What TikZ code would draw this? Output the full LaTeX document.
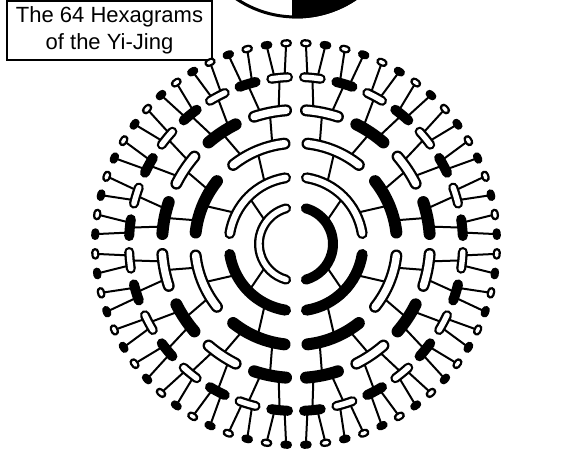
\documentclass[tikz,border=0pt]{standalone}
\usepackage{fontspec}
\setmainfont{Liberation Sans}
\usepackage{tikz}

\begin{document}
\begin{tikzpicture}[
            x=1pt, y=1pt,
            link/.style={
                draw=black,
                line width=2pt,
                line cap=round
            },
            yangseg/.style={
                draw=black,
                line cap=round
            },
            yinrim/.style={
                draw=black,
                line cap=round
            },
            yinfill/.style={
                draw=white,
                line cap=round
            },
            titlebox/.style={
                rectangle,
                draw=black,
                line width=2pt,
                minimum width=205pt,
                minimum height=59pt,
                inner sep=0pt,
                align=center,
                font=\fontsize{22}{27}\selectfont
            }
        ]
            \path[use as bounding box] (0,0) rectangle (580,454);
            \clip (0,0) rectangle (580,454);

            % --- TAIJI (cut by the page) ---
            \node [circle, draw=black, line width=3pt, fill=white, minimum size=214pt, inner sep=0pt] (taiji) at (296,544) {};
            \begin{scope}
                \clip (292,300) rectangle (420,700);
                \fill [black] (taiji.center) circle [radius=108.5pt];
            \end{scope}

            % --- TITLE ---
            \node [titlebox] (title) at (109.5,423.5) {The 64 Hexagrams\\of the Yi-Jing};

            \begin{scope}[shift={(296,210)}]
                % --- CENTRES OF THE SEGMENTS ---
                \foreach \k/\r in {1/37, 2/67, 3/101, 4/134, 5/167, 6/201} {
                    \pgfmathtruncatemacro\last{2^(\k-1)-1}
                    \pgfmathsetmacro\dt{180/2^(\k-1)}
                    \foreach \s/\side in {1/R, -1/L} {
                        \foreach \j in {0,...,\last} {
                            \pgfmathsetmacro\mid{90-(\s)*(\j+0.5)*\dt}
                            \coordinate (seg-\k-\side-\j) at (\mid:\r pt);
                        }
                    }
                }

                % --- BRANCHES ---
                \foreach \k/\rp/\f in {2/37/0.2, 3/67/0.22, 4/101/0.2, 5/134/0.33, 6/167/0.4} {
                    \pgfmathtruncatemacro\last{2^(\k-1)-1}
                    \pgfmathsetmacro\dt{180/2^(\k-1)}
                    \foreach \s/\side in {1/R, -1/L} {
                        \foreach \j in {0,...,\last} {
                            \pgfmathtruncatemacro\p{floor(\j/2)}
                            \pgfmathsetmacro\mc{90-(\s)*(\j+0.5)*\dt}
                            \pgfmathsetmacro\mp{90-(\s)*(\p+0.5)*2*\dt}
                            \pgfmathsetmacro\mf{\mc+\f*(\mp-\mc)}
                            \coordinate (foot-\k-\side-\j) at (\mf:\rp pt);
                            \draw [link] (foot-\k-\side-\j) -- (seg-\k-\side-\j);
                        }
                    }
                }

                % --- RINGS: black = yang, white = yin ---
                \foreach \k/\r/\w/\g in {1/37/10/10, 2/67/11/10, 3/101/12/11, 4/134/12/8, 5/167/10/6, 6/201/8/8} {
                    \pgfmathtruncatemacro\last{2^(\k-1)-1}
                    \pgfmathsetmacro\dt{180/2^(\k-1)}
                    \pgfmathsetmacro\cut{(\g+\w)/2/\r*180/pi}
                    \pgfmathsetmacro\wi{\w-4.6}
                    \foreach \s/\side in {1/R, -1/L} {
                        \foreach \j in {0,...,\last} {
                            \pgfmathsetmacro\a{90-(\s)*(\j*\dt+\cut)}
                            \pgfmathsetmacro\b{90-(\s)*((\j+1)*\dt-\cut)}
                            \pgfmathtruncatemacro\dark{\k==1 ? (\s==1) : mod(\j,2)}
                            \ifnum\dark=1
                                \draw [yangseg, line width=\w pt] (\a:\r pt) arc [start angle=\a, end angle=\b, radius=\r pt];
                            \else
                                \draw [yinrim, line width=\w pt] (\a:\r pt) arc [start angle=\a, end angle=\b, radius=\r pt];
                                \draw [yinfill, line width=\wi pt] (\a:\r pt) arc [start angle=\a, end angle=\b, radius=\r pt];
                            \fi
                        }
                    }
                }
            \end{scope}
        \end{tikzpicture}
\end{document}
